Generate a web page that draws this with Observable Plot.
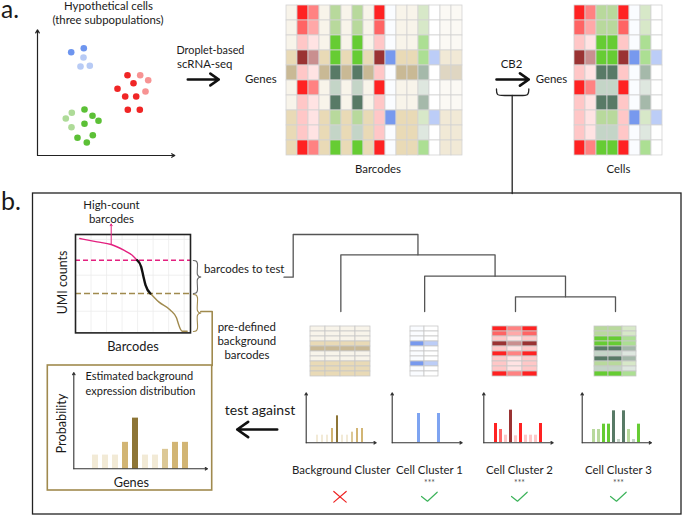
<!DOCTYPE html>
<html>
<head>
<meta charset="utf-8">
<script src="https://cdn.jsdelivr.net/npm/d3@7"></script>
<script src="https://cdn.jsdelivr.net/npm/@observablehq/plot@0.6"></script>
<style>
  html, body { margin: 0; padding: 0; background: #fff; }
  #fig { position: relative; width: 685px; height: 516px; overflow: hidden; }
  #fig > svg { position: absolute; }
</style>
</head>
<body>
<div id="fig"></div>
<script>
// ================= DATA =================
const genes = ["G1","G2","G3","G4","G5","G6","G7","G8","G9","G10"];

// expression level profile of each gene (row) per population
const backgroundProfile = [0,0,0,1,2,0,0,1,1,1];
const cluster1Profile   = [0,0,0,1,0,0,0,1,0,0];
const cluster2Profile   = [3,2,1,4,1,3,1,1,1,3];
const cluster3Profile   = [1,1,2,2,3,0,3,1,0,2];

// column kinds of the matrices
const barcodeColumns = ["bg","red","red-light","bg","green","bg","green","bg","red","blue","bg","bg","green-light","blue-light","bg-faded","bg-faded"];
const cellColumns    = ["red","red-light","green","green","red","blue","green-light","blue-light"];
const clusterNames   = ["Background Cluster","Cell Cluster 1","Cell Cluster 2","Cell Cluster 3"];
const clusterColumns = [["bg","bg","bg","bg"],["blue","blue-light"],["red","red-light","red"],["green","green","green-light"]];
const clusterSignificance = ["","***","***","***"];
const clusterIsCell = [false,true,true,true];

// estimated expression distributions (probability, arbitrary units)
const backgroundExpression = [1.1,1.1,1.1,2.1,4,1.1,1.1,1.55,2.1,2.1];
const cluster1Expression   = [0,0,0,4.35,0,0,0,4.35,0,0];
const cluster2Expression   = [2.85,1.95,1.1,4.85,1.0,2.85,1.1,1.1,1.1,2.85];
const cluster3Expression   = [1.95,1.95,2.75,2.75,4.75,0.45,4.75,1.95,0.45,2.75];
const backgroundBarLevel   = [0,0,0,2,3,0,0,1,2,2];

// dendrogram: leaves 0..3 are the clusters, merge k gets index 4+k
const dendrogramMerges = [[2,3],[1,4],[0,5]];

// barcode-rank (UMI) curve
const umiRank    = [3.7,18.8,31,42,49.3,53.6, 53.6,57.1,58.8,60.9,65.2, 65.2,72.4,82.6,87.8,89.9,91.3,92.8,97.1];
const umiCount   = [95.9,92.5,89.8,84,79,73.9, 73.9,67.1,58.6,48.5,40, 40,31.5,23.1,15.3,7.8,3.7,1.7,1.7];
const umiSegment = ["high","high","high","high","high","high","test","test","test","test","test","bg","bg","bg","bg","bg","bg","bg","bg"];
const umiThresholds = [73.9, 40];

// hypothetical cells (three subpopulations)
const cellX = [33.7,46.3,46,43,52.3, 90,102.7,110.7,96,80,108,87.7,98.7,90.3,102.3, 34.3,47,28.3,55,61,47,34,55.3,40,49.3];
const cellY = [103.3,107.3,98,89,89.7, 80.3,80.3,75.3,72.3,66.7,64,59,59,45.7,45.7, 42.7,46,37,39.7,34.7,31.7,28.3,20.3,17.7,13];
const cellPopulation = ["blue","blue","blue","blue","blue","red","red","red","red","red","red","red","red","red","red","green","green","green","green","green","green","green","green","green","green"];
const cellIsDark = [1,1,0,0,0, 1,0,0,1,1,0,1,1,1,1, 0,1,0,1,1,1,0,1,1,1];

const LABELS = {
  a: "a.", b: "b.",
  hypo1: "Hypothetical cells", hypo2: "(three subpopulations)",
  drop1: "Droplet-based", drop2: "scRNA-seq",
  genes: "Genes", barcodes: "Barcodes", cb2: "CB2", cells: "Cells",
  high1: "High-count", high2: "barcodes", umi: "UMI counts",
  test: "barcodes to test", pre1: "pre-defined", pre2: "background", pre3: "barcodes",
  est1: "Estimated background", est2: "expression distribution",
  prob: "Probability", against: "test against"
};

// ================= STYLES =================
const PROFILE_OF = {
  "bg": backgroundProfile, "bg-faded": backgroundProfile,
  "blue": cluster1Profile, "blue-light": cluster1Profile,
  "red": cluster2Profile, "red-light": cluster2Profile,
  "green": cluster3Profile, "green-light": cluster3Profile
};
const SHADES = {
  "bg":          ["#f8f4ea","#e9dab6","#c9b995"],
  "bg-faded":    ["#fbf9f4","#f1e9d6","#dfd6c2"],
  "red":         [null,"#ffc7c7","#ff6464","#ff2222","#9a3333"],
  "red-light":   [null,"#ffe3e3","#ffa8a8","#ff8282","#c98f8f"],
  "green":       ["#c4d5c7","#b8d99c","#66cc33","#587a66"],
  "green-light": ["#dee7df","#d7e8c8","#acdf93","#a5b9aa"],
  "blue":        ["#fafcff","#7799ee"],
  "blue-light":  ["#ffffff","#bccdf7"]
};
const BG_BAR_SHADES = ["#f2ead6","#dcc896","#d2b574","#8d7536"];
const DOT_SHADES = {blue:["#b8cbf5","#6d95ef"], red:["#f79393","#f02525"], green:["#aedb98","#5cc036"]};
const PINK = "#e3207f", BROWN = "#a08a4e", DARK = "#222";
const FONT = "Lato, 'Noto Sans', sans-serif";
const STYLE = {background: "transparent", overflow: "visible", fontFamily: FONT};

// ================= LAYOUT =================
const L = {
  scatter: {left: 30, top: 25, width: 150, height: 135, mL: 7, mR: 3, mT: 5, mB: 5, xmax: 140, ymax: 125, axX: 137.3, axY: 125.7},
  barcodeMap: {left: 283.3, top: 0, colW: 11.42, rowH: 15.95},
  cellMap: {left: 572.7, top: 0, colW: 11.33, rowH: 15.95},
  clusterMaps: [
    {left: 310, colW: 15.17}, {left: 409.3, colW: 14.85}, {left: 492.3, colW: 15.13}, {left: 592.7, colW: 14.87}
  ],
  clusterMapTop: 322.7, clusterRowH: 5.63,
  umi: {left: 75, top: 234.3, width: 115, height: 98.4},
  bigBars: {center0: 91.7, step: 10.78, bw: 6.7, baseline: 468.3, unit: 12.75},
  smallBars: [
    {center0: 314.3, step: 5.71, bw: 2.8}, {center0: 399.7, step: 6.0, bw: 3.3},
    {center0: 492, step: 5.75, bw: 3.2}, {center0: 590.3, step: 5.74, bw: 3.3}
  ],
  smallBaseline: 442.3, smallUnit: 6.67,
  smallAxes: [[305.7, 375.7], [391.7, 461.7], [483.3, 552.7], [581.7, 651]],
  smallAxisTop: 392.3,
  clusterLabelX: [340.7, 429, 519, 618],
  clusterLabelY: 470, starY: 482.7, verdictY: 496,
  mergeY: [296.3, 275.7, 254.3], leafTop: 311,
  rootY: 234, testNode: {x: 292.7, y: 276.7, from: 283.5}
};

const TEXT_LAYOUT = [
  {k:"a", x:0.5, y:17, size:24.5, anchor:"start", line:"bottom"},
  {k:"b", x:0.5, y:209.3, size:25, anchor:"start", line:"bottom"},
  {k:"hypo1", x:108, y:6}, {k:"hypo2", x:107.5, y:20},
  {k:"drop1", x:176, y:50, size:10.8, anchor:"start"}, {k:"drop2", x:176.5, y:64.3, anchor:"start"},
  {k:"genes", x:260.3, y:79}, {k:"barcodes", x:377.5, y:169},
  {k:"cb2", x:511, y:64.3}, {k:"genes", x:551, y:79}, {k:"cells", x:618, y:169},
  {k:"high1", x:111, y:205}, {k:"high2", x:111, y:219.3},
  {k:"umi", x:62.5, y:282, size:12.4, rotate:-90},
  {k:"barcodes", x:132.5, y:346.7, size:12.8},
  {k:"test", x:243.7, y:269},
  {k:"pre1", x:246.3, y:326.7}, {k:"pre2", x:246.3, y:340.5}, {k:"pre3", x:246.5, y:355},
  {k:"est1", x:85, y:376, size:11, anchor:"start"}, {k:"est2", x:85, y:391, size:11, anchor:"start"},
  {k:"prob", x:61.7, y:423, size:12.7, rotate:-90},
  {k:"genes", x:130.8, y:482, size:12.7},
  {k:"against", x:259.5, y:410, size:14}
];

// ================= BUILD =================
const fig = document.getElementById("fig");
function place(svg, left, topPx) { svg.style.left = left + "px"; svg.style.top = topPx + "px"; fig.appendChild(svg); }

function heatmap(columns, {left, top: topPx, colW, rowH, stroke = "#d3d3d3"}) {
  const cells = columns.flatMap((kind, c) => genes.map((g, r) => ({c, g, fill: SHADES[kind][PROFILE_OF[kind][r]]})));
  place(Plot.plot({
    width: colW * columns.length, height: rowH * genes.length, margin: 0,
    x: {type: "band", domain: d3.range(columns.length), padding: 0, axis: null},
    y: {type: "band", domain: genes, padding: 0, axis: null},
    color: {type: "identity"}, style: STYLE,
    marks: [Plot.cell(cells, {x: "c", y: "g", fill: "fill", stroke, strokeWidth: 0.8})]
  }), left, topPx);
}

function barChart(values, fills, {center0, step, bw, baseline, unit, ymax = 7.5}) {
  const p = 1 - bw / step;
  const width = step * (values.length + p);
  const height = ymax * unit;
  const bars = values.map((v, i) => ({g: genes[i], v, fill: fills[i]}));
  place(Plot.plot({
    width, height, margin: 0,
    x: {type: "band", domain: genes, paddingInner: p, paddingOuter: p, axis: null},
    y: {domain: [0, ymax], axis: null},
    color: {type: "identity"}, style: STYLE,
    marks: [Plot.barY(bars, {x: "g", y: "v", fill: "fill"})]
  }), center0 - step * (1 + p) / 2, baseline - height);
}

// --- scatter of hypothetical cells
{
  const s = L.scatter;
  const dots = cellX.map((x, i) => ({x, y: cellY[i], fill: DOT_SHADES[cellPopulation[i]][cellIsDark[i]]}));
  place(Plot.plot({
    width: s.width, height: s.height, marginLeft: s.mL, marginRight: s.mR, marginTop: s.mT, marginBottom: s.mB,
    x: {domain: [0, s.xmax], axis: null}, y: {domain: [0, s.ymax], axis: null},
    color: {type: "identity"}, style: STYLE,
    marks: [
      Plot.arrow([{x1: 0, y1: 0, x2: s.axX, y2: 0}, {x1: 0, y1: 0, x2: 0, y2: s.axY}],
        {x1: "x1", y1: "y1", x2: "x2", y2: "y2", stroke: DARK, strokeWidth: 1.2, headLength: 4.5}),
      Plot.dot(dots, {x: "x", y: "y", r: 3.3, fill: "fill"})
    ]
  }), s.left, s.top);
}

// --- matrices
heatmap(barcodeColumns, L.barcodeMap);
heatmap(cellColumns, L.cellMap);
clusterColumns.forEach((cols, i) => heatmap(cols, {left: L.clusterMaps[i].left, top: L.clusterMapTop, colW: L.clusterMaps[i].colW, rowH: L.clusterRowH, stroke: "#c8c8c8"}));

// --- UMI barcode-rank curve
{
  const u = L.umi;
  const pts = umiRank.map((x, i) => ({x, y: umiCount[i], seg: umiSegment[i]}));
  const seg = (name) => pts.filter(d => d.seg === name);
  place(Plot.plot({
    width: u.width, height: u.height, margin: 0,
    x: {domain: [0, 100], axis: null}, y: {domain: [0, 100], axis: null}, style: STYLE,
    marks: [
      Plot.ruleX([13.5, 27, 40.5, 54, 67.5, 81, 94.5], {stroke: "#ececec", strokeWidth: 0.8}),
      Plot.ruleY([22, 58.6, 95], {stroke: "#ececec", strokeWidth: 0.8}),
      Plot.ruleY([umiThresholds[0]], {stroke: PINK, strokeWidth: 1.5, strokeDasharray: "5,3"}),
      Plot.ruleY([umiThresholds[1]], {stroke: BROWN, strokeWidth: 1.5, strokeDasharray: "6,3"}),
      Plot.line(seg("high"), {x: "x", y: "y", stroke: PINK, strokeWidth: 1.4, curve: "monotone-x"}),
      Plot.line(seg("bg"), {x: "x", y: "y", stroke: BROWN, strokeWidth: 1.4, curve: "monotone-x"}),
      Plot.line(seg("test"), {x: "x", y: "y", stroke: "#111", strokeWidth: 2.4, curve: "monotone-x"}),
      Plot.frame({stroke: DARK, strokeWidth: 1.6})
    ]
  }), u.left, u.top);
}

// --- expression distributions
const bgFills = backgroundBarLevel.map(l => BG_BAR_SHADES[l]);
barChart(backgroundExpression, bgFills, L.bigBars);
const clusterExpr = [backgroundExpression, cluster1Expression, cluster2Expression, cluster3Expression];
const clusterFills = [
  bgFills,
  cluster1Expression.map(() => "#7ea4f1"),
  cluster2Profile.map(l => SHADES["red"][l]),
  cluster3Profile.map(l => SHADES["green"][l])
];
clusterExpr.forEach((vals, i) => barChart(vals, clusterFills[i], {...L.smallBars[i], baseline: L.smallBaseline, unit: L.smallUnit}));

// --- overlay: frames, arrows, braces, dendrogram, labels
function brace(x, y1, y2, depth) {
  const m = (y1 + y2) / 2, d = depth, c = x + d * 0.55;
  return [[x, y1], [x + d * 0.4, y1 + 0.8], [c, y1 + 3], [c, m - 2.5], [x + d * 0.75, m - 0.5], [x + d, m],
          [x + d * 0.75, m + 0.5], [c, m + 2.5], [c, y2 - 3], [x + d * 0.4, y2 - 0.8], [x, y2]];
}
const leafX = L.clusterMaps.map((m, i) => m.left + m.colW * clusterColumns[i].length / 2);
const nodes = leafX.map(x => ({x, y: L.leafTop}));
const dendroPaths = [];
dendrogramMerges.forEach(([a, b], k) => {
  const y = L.mergeY[k];
  dendroPaths.push([[nodes[a].x, nodes[a].y], [nodes[a].x, y], [nodes[b].x, y], [nodes[b].x, nodes[b].y]]);
  nodes.push({x: (nodes[a].x + nodes[b].x) / 2, y});
});
const rootNode = nodes[nodes.length - 1], testNode = L.testNode;
dendroPaths.push([[testNode.from, testNode.y], [testNode.x, testNode.y], [testNode.x, L.rootY], [rootNode.x, L.rootY], [rootNode.x, rootNode.y]]);

const toRows = (paths) => paths.flatMap((p, id) => p.map(([x, y]) => ({id, x, y})));
const lineMark = (paths, opts) => Plot.line(toRows(paths), {x: "x", y: "y", z: "id", ...opts});

const checks = L.clusterLabelX.map((cx, i) => clusterIsCell[i]
  ? [[cx - 8, L.verdictY], [cx - 2, L.verdictY + 4.7], [cx + 7.7, L.verdictY - 4.3]] : null).filter(Boolean);
const cross = (() => { const cx = L.clusterLabelX[0] - 1.2, cy = L.verdictY + 0.3;
  return [[[cx - 6.2, cy - 5.3], [cx + 6.2, cy + 5.3]], [[cx - 6.2, cy + 5.3], [cx + 6.2, cy - 5.3]]]; })();

const thickArrows = [{x1: 187.3, y1: 79, x2: 218.3, y2: 79}, {x1: 496, y1: 79, x2: 528.3, y2: 79}, {x1: 276.7, y1: 429, x2: 236.7, y2: 429}];
const thinAxes = [
  {x1: 73.3, y1: 468.3, x2: 73.3, y2: 372}, {x1: 73.3, y1: 468.3, x2: 207, y2: 468.3},
  ...L.smallAxes.flatMap(([x0, x1]) => [
    {x1: x0, y1: L.smallBaseline, x2: x0, y2: L.smallAxisTop}, {x1: x0, y1: L.smallBaseline, x2: x1, y2: L.smallBaseline}])
];
const panelFrame = [{x1: 32.5, x2: 681, y1: 193, y2: 514}];
const backgroundBox = [{x1: 47.3, x2: 211.7, y1: 365, y2: 490}];

const textMarks = TEXT_LAYOUT.map(d => Plot.text([d], {
  x: "x", y: "y", text: () => LABELS[d.k], fontSize: d.size || 11.4, rotate: d.rotate || 0,
  textAnchor: d.anchor || "middle", lineAnchor: d.line || "middle", fill: "#1a1a1a"
}));
const clusterRows = clusterNames.map((name, i) => ({name, x: L.clusterLabelX[i], star: clusterSignificance[i]}));

place(Plot.plot({
  width: 685, height: 516, margin: 0,
  x: {domain: [0, 685], range: [0, 685], axis: null},
  y: {domain: [0, 516], range: [0, 516], axis: null},
  style: STYLE,
  marks: [
    Plot.rect(panelFrame, {x1: "x1", x2: "x2", y1: "y1", y2: "y2", fill: "none", stroke: DARK, strokeWidth: 1.3}),
    Plot.rect(backgroundBox, {x1: "x1", x2: "x2", y1: "y1", y2: "y2", fill: "none", stroke: BROWN, strokeWidth: 1.6}),
    Plot.arrow(thickArrows, {x1: "x1", y1: "y1", x2: "x2", y2: "y2", stroke: "#111", strokeWidth: 2.6, headLength: 9, headAngle: 70}),
    Plot.arrow(thinAxes, {x1: "x1", y1: "y1", x2: "x2", y2: "y2", stroke: "#333", strokeWidth: 1.1, headLength: 3.5}),
    Plot.arrow([{x1: 110.7, y1: 244, x2: 110.7, y2: 223.5}], {x1: "x1", y1: "y1", x2: "x2", y2: "y2", stroke: PINK, strokeWidth: 1, headLength: 3}),
    lineMark([[[496, 88.5], [496, 95], [502, 95], [521, 95], [528.3, 95], [528.3, 88.5]]], {stroke: "#222", strokeWidth: 1.3, curve: "basis"}),
    lineMark([[[511.7, 95], [511.7, 193]]], {stroke: "#222", strokeWidth: 1.3}),
    lineMark([brace(192.8, 260, 293, 7.5)], {stroke: "#666", strokeWidth: 1.1, curve: "catmull-rom"}),
    lineMark([brace(192.8, 294, 331, 7.5)], {stroke: BROWN, strokeWidth: 1.1, curve: "catmull-rom"}),
    lineMark([[[200.3, 311], [211.7, 311], [211.7, 365]]], {stroke: BROWN, strokeWidth: 1.6}),
    lineMark(dendroPaths, {stroke: "#555", strokeWidth: 1.3}),
    lineMark(checks, {stroke: "#3cb35a", strokeWidth: 1.2}),
    lineMark(cross, {stroke: "#ee2222", strokeWidth: 1.2}),
    ...textMarks,
    Plot.text(clusterRows, {x: "x", y: L.clusterLabelY, text: "name", fontSize: 11.4, fill: "#222"}),
    Plot.text(clusterRows, {x: "x", y: L.starY, text: "star", fontSize: 8.5, fill: "#555"})
  ]
}), 0, 0);
</script>
</body>
</html>
